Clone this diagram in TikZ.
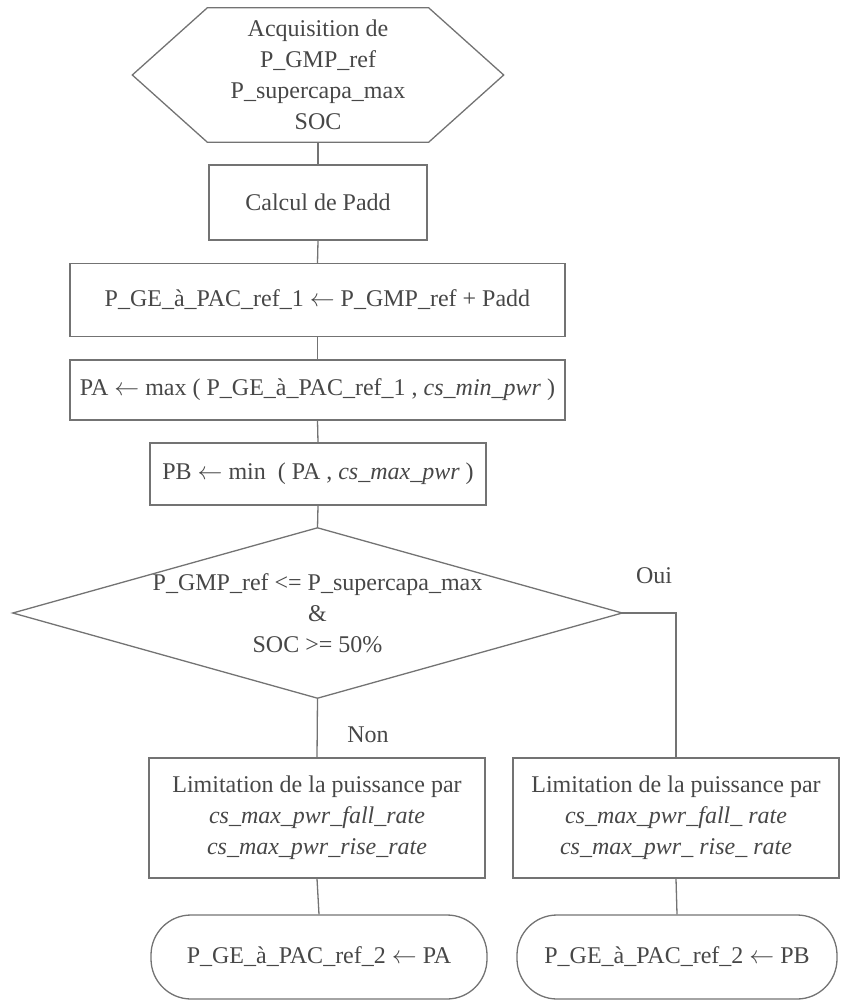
\documentclass[tikz,border=0pt]{standalone}
\usepackage{fontspec}
\setmainfont{Liberation Serif}
\begin{document}
\begin{tikzpicture}[x=1pt,y=-1pt,
  every node/.style={font=\fontsize{24}{31}\selectfont, text=black!72, align=center, inner sep=0pt},
  ln/.style={draw=black!55, line width=1.3pt},
  boxst/.style={ln, rectangle},
  termst/.style={ln, rectangle, rounded corners=40pt},
  lbl/.style={text=black!72}]
\useasboundingbox (0,0) rectangle (840,1003);
% nodes
\node[minimum width=371, minimum height=134] (hex) at (318,75)
  {Acquisition de\\P\_GMP\_ref\\P\_supercapa\_max\\SOC};
\draw[ln] (hex.west) -- ([xshift=75]hex.north west) -- ([xshift=-75]hex.north east)
  -- (hex.east) -- ([xshift=-75]hex.south east) -- ([xshift=75]hex.south west) -- cycle;
\node[boxst, minimum width=218, minimum height=75] (calc) at (318,202.5) {Calcul de Padd};
\node[boxst, minimum width=495, minimum height=73] (b3) at (317.5,300)
  {P\_GE\_à\_PAC\_ref\_1 $\leftarrow$ P\_GMP\_ref + Padd};
\node[boxst, minimum width=495, minimum height=60] (b4) at (317.5,390)
  {PA $\leftarrow$ max ( P\_GE\_à\_PAC\_ref\_1 , \textit{cs\_min\_pwr} )};
\node[boxst, minimum width=336, minimum height=62] (b5) at (318,474)
  {PB $\leftarrow$ min\ \ ( PA , \textit{cs\_max\_pwr} )};
\node[minimum width=609, minimum height=170] (dia) at (317.5,613)
  {P\_GMP\_ref <= P\_supercapa\_max\\\&\\SOC >= 50\%};
\draw[ln] (dia.north) -- (dia.east) -- (dia.south) -- (dia.west) -- cycle;
\node[boxst, minimum width=336, minimum height=120] (lbox) at (317,818)
  {Limitation de la puissance par\\\textit{cs\_max\_pwr\_fall\_rate}\\\textit{cs\_max\_pwr\_rise\_rate}};
\node[boxst, minimum width=326, minimum height=120] (rbox) at (676,818)
  {Limitation de la puissance par\\\textit{cs\_max\_pwr\_fall\_ rate}\\\textit{cs\_max\_pwr\_ rise\_ rate}};
\node[termst, minimum width=336, minimum height=84] (lterm) at (319,957)
  {P\_GE\_à\_PAC\_ref\_2 $\leftarrow$ PA};
\node[termst, minimum width=320, minimum height=84] (rterm) at (677,957)
  {P\_GE\_à\_PAC\_ref\_2 $\leftarrow$ PB};
% connectors
\draw[ln] (hex.south) -- (calc.north);
\draw[ln] (calc.south) -- (b3.north);
\draw[ln] (b3.south) -- (b4.north);
\draw[ln] (b4.south) -- (b5.north);
\draw[ln] (b5.south) -- (dia.north);
\draw[ln] (dia.south) -- (lbox.north);
\draw[ln] (dia.east) -| (rbox.north);
\draw[ln] (lbox.south) -- (lterm.north);
\draw[ln] (rbox.south) -- (rterm.north);
% labels
\node[lbl] (non) at (368,735) {Non};
\node[lbl] (oui) at (654,576) {Oui};
\end{tikzpicture}
\end{document}
